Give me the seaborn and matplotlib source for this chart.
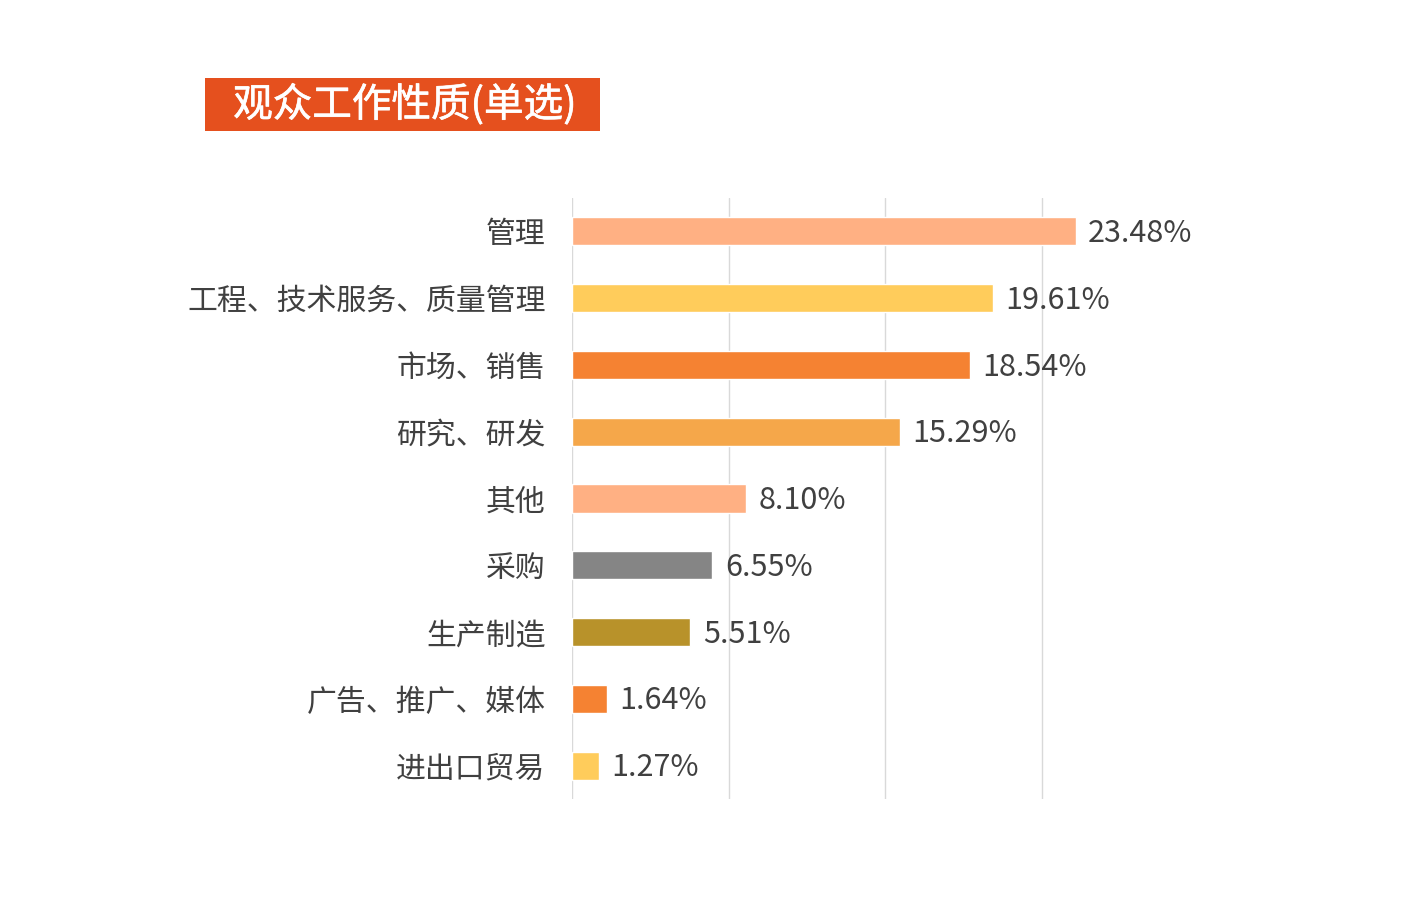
import matplotlib
matplotlib.use('Agg')
import matplotlib.pyplot as plt
import matplotlib.patheffects as pe
import seaborn as sns
import pandas as pd
from matplotlib.patches import Rectangle

# data
categories = ['管理', '工程、技术服务、质量管理', '市场、销售', '研究、研发', '其他',
              '采购', '生产制造', '广告、推广、媒体', '进出口贸易']
values = [23.48, 19.61, 18.54, 15.29, 8.10, 6.55, 5.51, 1.64, 1.27]
bar_colors = ['#FFB083', '#FFCC5B', '#F58232', '#F5A74A', '#FFB083',
              '#858585', '#B8922A', '#F58232', '#FFCC5B']
title = '观众工作性质(单选)'

sns.set_theme(style='white')
plt.rcParams['font.family'] = ['Noto Sans CJK SC', 'DejaVu Sans']

W, H = 1406, 917
fig = plt.figure(figsize=(W / 100, H / 100), dpi=100)

# axes placed in pixel terms of the reference
left_px, right_px, top_px, bottom_px = 572, 1200, 198, 799
ax = fig.add_axes([left_px / W, 1 - bottom_px / H,
                   (right_px - left_px) / W, (bottom_px - top_px) / H])

df = pd.DataFrame({'cat': categories, 'val': values})
sns.barplot(data=df, y='cat', x='val', hue='cat', palette=bar_colors,
            order=categories, orient='h', width=0.42, legend=False,
            saturation=1, ax=ax)

px_per_pct = 21.45
ax.set_xlim(0, (right_px - left_px) / px_per_pct)
ax.set_xticks([0, 7.3, 14.6, 21.9])
ax.set_xticklabels([])
ax.xaxis.grid(True, color='#D9D9D9', linewidth=1)
ax.yaxis.grid(False)
for s in ax.spines.values():
    s.set_visible(False)
ax.tick_params(axis='both', length=0)
ax.tick_params(axis='y', pad=19, labelsize=21.5, labelcolor='#404040')
ax.set_xlabel('')
ax.set_ylabel('')

for i, v in enumerate(values):
    ax.annotate(f'{v:.2f}%', xy=(v, i), xytext=(9, -1.5), textcoords='offset points',
                ha='left', va='center', fontsize=22, color='#404040')

# title box
fig.patches.append(Rectangle((205 / W, 1 - 131 / H), (600 - 205) / W, (131 - 78) / H,
                             transform=fig.transFigure, facecolor='#E5501E',
                             edgecolor='none'))
fig.text(405 / W, 1 - 105 / H, title, ha='center', va='center', fontsize=28.5,
         color='white', fontweight='medium',
         path_effects=[pe.withStroke(linewidth=0.45, foreground='white')])

fig.savefig('out.png', dpi=100)
